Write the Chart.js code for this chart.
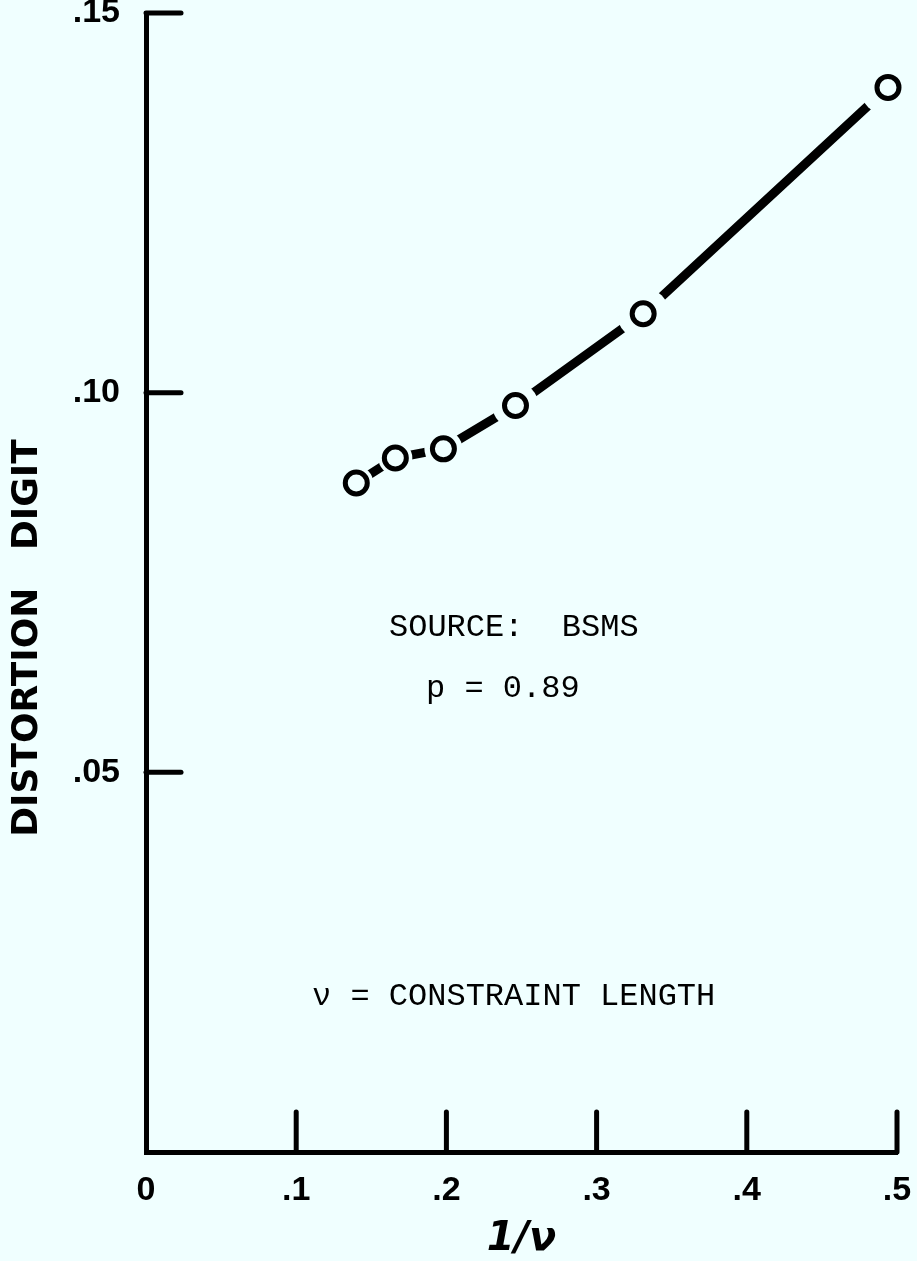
<!DOCTYPE html>
<html>
<head>
<meta charset="utf-8">
<script src="https://cdn.jsdelivr.net/npm/chart.js@4/dist/chart.umd.min.js"></script>
<style>
  html, body { margin: 0; padding: 0; background: #F0FFFF; }
  canvas { display: block; background: #F0FFFF; }
</style>
</head>
<body>
<canvas id="c" width="917" height="1261"></canvas>
<script>
// ---- data ----
const xValues = [0.140, 0.166, 0.198, 0.246, 0.331, 0.494];   // 1/ν
const yValues = [0.0881, 0.0914, 0.0926, 0.0983, 0.1104, 0.1402]; // distortion digit
const xTickValues = [0, 0.1, 0.2, 0.3, 0.4, 0.5];
const xTickLabels = ['0', '.1', '.2', '.3', '.4', '.5'];
const yTickValues = [0.05, 0.10, 0.15];
const yTickLabels = ['.05', '.10', '.15'];
const xTitle = '1/\u03BD';
const yTitle = 'DISTORTION   DIGIT';
const noteSource = 'SOURCE:  BSMS';
const noteP = 'p = 0.89';
const noteNu = '\u03BD = CONSTRAINT LENGTH';
// gap sizes (style) around each marker
const haloRadius = [17, 17, 19, 23, 26, 28];

const BG = '#F0FFFF';
const points = xValues.map((x, i) => ({ x: x, y: yValues[i] }));

function near(a, b) { return Math.abs(a - b) < 1e-9; }

const extras = {
  id: 'extras',
  afterDraw(chart) {
    const ctx = chart.ctx;
    const xs = chart.scales.x, ys = chart.scales.y;
    const area = chart.chartArea;
    ctx.save();
    ctx.strokeStyle = '#000';
    ctx.lineWidth = 5;
    ctx.lineCap = 'round';
    // inward tick marks
    xTickValues.forEach(v => {
      if (v === 0) return;
      const px = xs.getPixelForValue(v);
      ctx.beginPath();
      ctx.moveTo(px, area.bottom);
      ctx.lineTo(px, area.bottom - 40);
      ctx.stroke();
    });
    yTickValues.forEach(v => {
      const py = ys.getPixelForValue(v);
      ctx.beginPath();
      ctx.moveTo(area.left, py);
      ctx.lineTo(area.left + 35, py);
      ctx.stroke();
    });
    // y axis title
    ctx.fillStyle = '#000';
    ctx.save();
    ctx.translate(28, 638);
    ctx.rotate(-Math.PI / 2);
    ctx.font = 'bold 36px "DejaVu Sans"';
    ctx.textAlign = 'center';
    ctx.textBaseline = 'middle';
    ctx.fillText(yTitle, 0, 0);
    ctx.restore();
    // notes
    ctx.font = '32px "Liberation Mono"';
    ctx.textAlign = 'left';
    ctx.textBaseline = 'middle';
    ctx.fillText(noteSource, 389, 628);
    ctx.fillText(noteP, 426, 689);
    ctx.fillText(noteNu, 312, 997);
    ctx.restore();
  }
};

new Chart(document.getElementById('c'), {
  type: 'scatter',
  data: {
    datasets: [
      { // open circle markers (top)
        data: points, showLine: false, order: 0, clip: false,
        pointRadius: 11, pointBorderWidth: 5,
        pointBorderColor: '#000', pointBackgroundColor: BG
      },
      { // background halos producing gaps in the line
        data: points, showLine: false, order: 1, clip: false,
        pointRadius: ctx => haloRadius[ctx.dataIndex], pointBorderWidth: 0,
        pointBorderColor: BG, pointBackgroundColor: BG
      },
      { // thick connecting line
        data: points, showLine: true, order: 2, clip: false,
        borderColor: '#000', borderWidth: 9, borderCapStyle: 'round',
        borderJoinStyle: 'round', pointRadius: 0, tension: 0
      }
    ]
  },
  options: {
    responsive: false,
    devicePixelRatio: 1,
    animation: false,
    events: [],
    layout: { autoPadding: false, padding: { left: 0, right: 20, top: 13, bottom: 0 } },
    plugins: { legend: { display: false }, tooltip: { enabled: false } },
    scales: {
      x: {
        type: 'linear', min: 0, max: 0.5,
        grid: { display: false, drawTicks: false },
        border: { display: true, color: '#000', width: 5 },
        ticks: {
          stepSize: 0.1, autoSkip: false, maxRotation: 0, padding: 18,
          color: '#000', font: { family: 'Liberation Sans', weight: 'bold', size: 34 },
          callback: v => { const i = xTickValues.findIndex(t => near(t, v)); return i >= 0 ? xTickLabels[i] : ''; }
        },
        title: {
          display: true, text: xTitle, color: '#000',
          font: { family: 'DejaVu Sans', style: 'italic', weight: 'bold', size: 40, lineHeight: 1 },
          padding: { top: 0, bottom: 1 }
        },
        afterFit: s => { s.height = 1261 - 1152; s.paddingLeft = 0; s.paddingRight = 0; }
      },
      y: {
        type: 'linear', min: 0, max: 0.15,
        grid: { display: false, drawTicks: false },
        border: { display: true, color: '#000', width: 5 },
        ticks: {
          stepSize: 0.05, padding: 26,
          color: '#000', font: { family: 'Liberation Sans', weight: 'bold', size: 34 },
          callback: v => { const i = yTickValues.findIndex(t => near(t, v)); return i >= 0 ? yTickLabels[i] : ''; }
        },
        afterFit: s => { s.width = 146; s.paddingTop = 0; s.paddingBottom = 0; }
      }
    }
  },
  plugins: [extras]
});
</script>
</body>
</html>
